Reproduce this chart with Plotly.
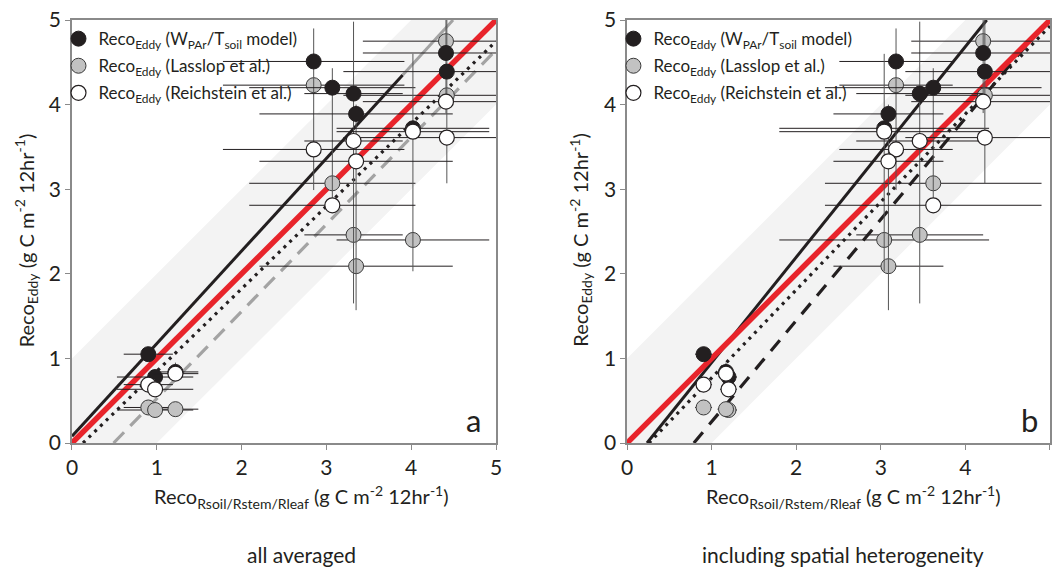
import plotly.graph_objects as go

# ---------------- data ----------------
AX_MAX = 5.0
BAND = 1.0          # +/- band around the 1:1 line

# site positions (x) in both panels
x_avg = [0.90, 0.98, 1.22, 2.85, 3.07, 3.32, 3.35, 4.02, 4.41, 4.42]
x_het = [0.905, 1.20, 1.17, 3.18, 3.62, 3.46, 3.09, 3.04, 4.21, 4.23]
xerr_avg = [0.29, 0.45, 0.27, 1.07, 0.98, 0.58, 1.14, 0.90, 0.98, 1.22]
xerr_het = [0.10, 0.10, 0.10, 0.67, 1.28, 0.75, 0.65, 1.24, 0.85, 0.94]

# Reco_Eddy values for the three partitioning methods
y_wpar = [1.05, 0.78, 0.84, 4.51, 4.20, 4.13, 3.89, 3.72, 4.61, 4.39]
y_lasslop = [0.42, 0.39, 0.40, 4.23, 3.07, 2.46, 2.09, 2.40, 4.75, 4.11]
y_reich = [0.69, 0.635, 0.82, 3.47, 2.81, 3.57, 3.33, 3.68, 4.035, 3.61]

# vertical error range per site
y_lo = [1.00, 0.72, 0.76, 2.99, 2.75, 1.65, 1.57, 2.03, 3.90, 3.07]
y_hi = [1.10, 0.84, 0.95, 4.90, 4.43, 4.98, 4.00, 4.60, 5.20, 5.10]

# regression lines (slope, intercept)
fit_avg_wpar = (1.095, 0.08)
fit_avg_wpar_end = 3.9
fit_avg_reich = (0.975, -0.127)
fit_avg_lasslop = (1.03, -0.505)
fit_het_wpar = (1.245, -0.294)
fit_het_reich = (1.04, -0.270)
fit_het_lasslop = (1.196, -0.945)

legend_names = [
    "Reco<sub>Eddy</sub> (W<sub>PAr</sub>/T<sub>soil</sub> model)",
    "Reco<sub>Eddy</sub> (Lasslop et al.)",
    "Reco<sub>Eddy</sub> (Reichstein et al.)",
]

FONT = "Lato"
DARK = "#231f20"
AXC = "#8a8a8a"

# ---------------- helpers ----------------
def seg(slope, icpt, xa=0.0, xb=AX_MAX):
    """endpoints of y = slope*x + icpt restricted to the square [0,AX_MAX]^2 and [xa,xb]"""
    x0 = max(xa, (0 - icpt) / slope)
    x1 = min(xb, (AX_MAX - icpt) / slope)
    return [x0, x1], [slope * x0 + icpt, slope * x1 + icpt]


def xerr_arrays(xs, es):
    plus = [min(x + e, AX_MAX) - x for x, e in zip(xs, es)]
    minus = [min(e, x) for x, e in zip(xs, es)]
    return plus, minus


fig = go.Figure()

panels = [
    dict(xs=x_avg, xe=xerr_avg, xa="x", ya="y", leg="legend",
         fits=[(fit_avg_reich, DARK, "3px,5px", 3.2),
               (fit_avg_lasslop, "#a3a3a3", "15px,9px", 3.2)],
         wpar=fit_avg_wpar, wpar_end=fit_avg_wpar_end),
    dict(xs=x_het, xe=xerr_het, xa="x2", ya="y2", leg="legend2",
         fits=[(fit_het_reich, DARK, "3px,5px", 3.2),
               (fit_het_lasslop, DARK, "14px,10px", 3.2)],
         wpar=fit_het_wpar, wpar_end=None),
]

for pi, p in enumerate(panels):
    xa, ya = p["xa"], p["ya"]
    # shaded +/- band around 1:1
    bx = [0, 0, AX_MAX - BAND, AX_MAX, AX_MAX, BAND, 0]
    by = [0, BAND, AX_MAX, AX_MAX, AX_MAX - BAND, 0, 0]
    fig.add_trace(go.Scatter(x=bx, y=by, fill="toself", fillcolor="#f3f3f3",
                             line=dict(width=0), mode="lines", hoverinfo="skip",
                             showlegend=False, xaxis=xa, yaxis=ya))
    # fitted lines
    for (s, c), col, dash, w in p["fits"]:
        lx, ly = seg(s, c)
        fig.add_trace(go.Scatter(x=lx, y=ly, mode="lines",
                                 line=dict(color=col, width=w, dash=dash),
                                 showlegend=False, hoverinfo="skip", xaxis=xa, yaxis=ya))
    s, c = p["wpar"]
    if p["wpar_end"] is not None:
        lx, ly = seg(s, c, 0, p["wpar_end"])
        fig.add_trace(go.Scatter(x=lx, y=ly, mode="lines", line=dict(color=DARK, width=3),
                                 showlegend=False, hoverinfo="skip", xaxis=xa, yaxis=ya))
        lx, ly = seg(s, c, p["wpar_end"], AX_MAX)
        fig.add_trace(go.Scatter(x=lx, y=ly, mode="lines", line=dict(color="#a3a3a3", width=3),
                                 showlegend=False, hoverinfo="skip", xaxis=xa, yaxis=ya))
    else:
        lx, ly = seg(s, c)
        fig.add_trace(go.Scatter(x=lx, y=ly, mode="lines", line=dict(color=DARK, width=3),
                                 showlegend=False, hoverinfo="skip", xaxis=xa, yaxis=ya))
    # 1:1 line
    lx, ly = seg(1.0, 0.0)
    fig.add_trace(go.Scatter(x=lx, y=ly, mode="lines", line=dict(color="#e8242b", width=5.5),
                             showlegend=False, hoverinfo="skip", xaxis=xa, yaxis=ya))

    xp, xm = xerr_arrays(p["xs"], p["xe"])
    ex = dict(type="data", symmetric=False, array=xp, arrayminus=xm,
              color=DARK, thickness=1, width=0)

    # Lasslop (grey)
    fig.add_trace(go.Scatter(x=p["xs"], y=y_lasslop, mode="markers", name=legend_names[1],
                             marker=dict(size=15, color="#c2c2c2", line=dict(color="#3a3a3a", width=1)),
                             error_x=ex, legend=p["leg"], legendrank=2,
                             legendgroup=f"las{pi}", xaxis=xa, yaxis=ya))
    # WPAr/Tsoil model (black) carries the vertical site ranges
    yp = [min(h, AX_MAX) - y for h, y in zip(y_hi, y_wpar)]
    ym = [y - l for l, y in zip(y_lo, y_wpar)]
    fig.add_trace(go.Scatter(x=p["xs"], y=y_wpar, mode="markers", name=legend_names[0],
                             marker=dict(size=15, color=DARK, line=dict(color=DARK, width=1)),
                             error_x=ex,
                             error_y=dict(type="data", symmetric=False, array=yp, arrayminus=ym,
                                          color="#555555", thickness=1, width=0),
                             legend=p["leg"], legendrank=1, legendgroup=f"wpar{pi}",
                             xaxis=xa, yaxis=ya))
    # Reichstein (white)
    fig.add_trace(go.Scatter(x=p["xs"], y=y_reich, mode="markers", name=legend_names[2],
                             marker=dict(size=15, color="white", line=dict(color=DARK, width=1.2)),
                             error_x=ex, legend=p["leg"], legendrank=3,
                             legendgroup=f"rei{pi}", xaxis=xa, yaxis=ya))

ydom = [0.2228, 0.9649]
axis_common = dict(range=[0, AX_MAX], showgrid=False, zeroline=False, showline=True,
                   mirror=True, linecolor=AXC, linewidth=1.5, ticks="outside",
                   ticklen=5, tickcolor=AXC, tickwidth=1.2, dtick=1, automargin=False,
                   tickfont=dict(family=FONT, size=21, color=DARK))

legend_common = dict(yanchor="top", xanchor="left", bgcolor="rgba(0,0,0,0)",
                     font=dict(family=FONT, size=17, color=DARK), tracegroupgap=2,
                     itemwidth=30)

title_font = dict(family=FONT, size=20, color=DARK)
sub_font = dict(family=FONT, size=21, color=DARK)
ytitle = "Reco<sub>Eddy</sub> (g C m<sup>-2</sup> 12hr<sup>-1</sup>)"
xtitle = "Reco<sub>Rsoil/Rstem/Rleaf</sub> (g C m<sup>-2</sup> 12hr<sup>-1</sup>)"
annotations = [
    dict(text=ytitle, x=0.025, y=0.579, textangle=-90, font=title_font),
    dict(text=ytitle, x=0.551, y=0.579, textangle=-90, font=title_font),
    dict(text=xtitle, x=0.2856, y=0.128, font=title_font),
    dict(text=xtitle, x=0.810, y=0.128, font=title_font),
    dict(text="all averaged", x=0.2856, y=0.028, font=sub_font),
    dict(text="including spatial heterogeneity", x=0.80, y=0.028, font=sub_font),
    dict(text="a", x=0.4488, y=0.263, font=dict(family=FONT, size=31, color=DARK)),
    dict(text="b", x=0.977, y=0.263, font=dict(family=FONT, size=31, color=DARK)),
]
for a in annotations:
    a.update(xref="paper", yref="paper", showarrow=False, xanchor="center", yanchor="middle")

fig.update_layout(
    width=1054, height=570,
    margin=dict(l=0, r=0, t=0, b=0, autoexpand=False),
    paper_bgcolor="white", plot_bgcolor="white",
    xaxis=dict(domain=[0.0683, 0.4706], anchor="y", **axis_common),
    yaxis=dict(domain=ydom, anchor="x", **axis_common),
    xaxis2=dict(domain=[0.5949, 0.9962], anchor="y2", **axis_common),
    yaxis2=dict(domain=ydom, anchor="x2", **axis_common),
    legend=dict(x=0.0555, y=0.963, **legend_common),
    legend2=dict(x=0.582, y=0.963, **legend_common),
    annotations=annotations,
    showlegend=True,
)

fig.write_html("out.html", post_script="document.body.style.margin='0px';",
               config={"displayModeBar": False})
